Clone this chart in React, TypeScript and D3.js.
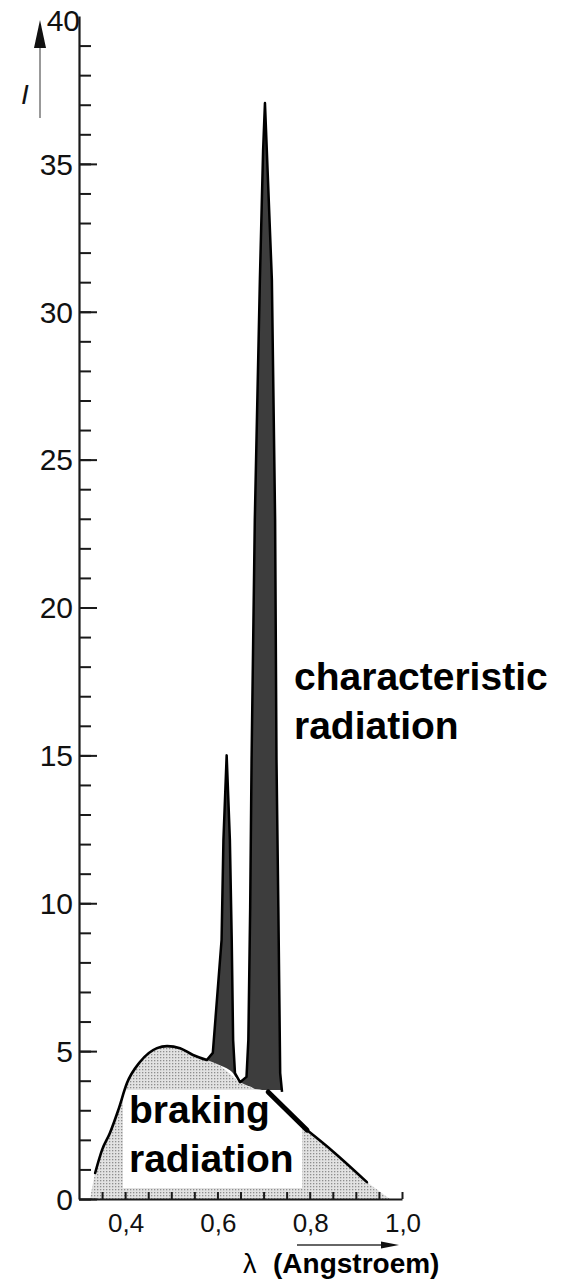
import React, { useEffect, useRef } from 'react'
import * as d3 from 'd3'

// braking radiation (continuum)
const continuumLambda = [0.324, 0.335, 0.350, 0.367, 0.385, 0.404, 0.432, 0.469, 0.491, 0.519, 0.547, 0.577, 0.606, 0.649, 0.681, 0.710, 0.794, 0.851, 0.924, 0.948, 0.974]
const continuumI = [0, 0.88, 1.66, 2.23, 3.0, 3.92, 4.63, 5.1, 5.17, 5.1, 4.87, 4.70, 4.5, 3.95, 3.72, 3.62, 2.33, 1.6, 0.57, 0.3, 0]

// characteristic lines (K-beta, K-alpha): upper outline and the continuum under it
const lineLambda = [0.577, 0.590, 0.609, 0.613, 0.620, 0.627, 0.631, 0.634, 0.638, 0.649, 0.663, 0.667, 0.671, 0.674, 0.681, 0.692, 0.699, 0.703, 0.707, 0.718, 0.725, 0.728, 0.732, 0.736, 0.740]
const lineI = [4.70, 4.94, 8.76, 12.14, 15.0, 12.14, 8.76, 5.38, 4.26, 3.95, 4.13, 5.38, 9.87, 14.85, 22.96, 31.08, 35.47, 37.06, 35.47, 31.08, 22.96, 14.85, 9.87, 4.26, 3.62]
const lineBase = [4.70, 4.62, 4.50, 4.47, 4.42, 4.35, 4.30, 4.25, 4.15, 3.95, 3.85, 3.82, 3.80, 3.78, 3.72, 3.70, 3.68, 3.67, 3.66, 3.64, 3.63, 3.62, 3.62, 3.62, 3.62]

const yMajorTicks = [0, 5, 10, 15, 20, 25, 30, 35, 40]
const xMajorTicks = [0.4, 0.6, 0.8, 1.0]
const xTickLabels = ['0,4', '0,6', '0,8', '1,0']

const W = 567
const H = 1280
const tickFont = '"Liberation Sans", Arial, sans-serif'
const labelFont = '"Liberation Sans", Arial, sans-serif'

export default function App() {
  const svgRef = useRef<SVGSVGElement>(null)

  useEffect(() => {
    if (!svgRef.current) return
    const svg = d3.select(svgRef.current)
    svg.selectAll('*').remove()

    const x = d3.scaleLinear().domain([0.3, 1.0]).range([79, 402])
    const y = d3.scaleLinear().domain([0, 40]).range([1199, 16])

    // stipple pattern for the continuum
    const defs = svg.append('defs')
    const pat = defs.append('pattern')
      .attr('id', 'stipple')
      .attr('patternUnits', 'userSpaceOnUse')
      .attr('width', 3)
      .attr('height', 3)
    pat.append('rect').attr('width', 3).attr('height', 3).attr('fill', '#e2e2e2')
    pat.append('rect').attr('x', 1).attr('y', 1).attr('width', 1.3).attr('height', 1.3).attr('fill', '#8e8e8e')

    const cont = continuumLambda.map((l, i) => ({ l, v: continuumI[i] }))
    const peaks = lineLambda.map((l, i) => ({ l, v: lineI[i], b: lineBase[i] }))

    const contArea = d3.area<{ l: number; v: number }>()
      .x(d => x(d.l))
      .y0(y(0))
      .y1(d => y(d.v))
      .curve(d3.curveMonotoneX)

    svg.append('path')
      .datum(cont)
      .attr('d', contArea)
      .attr('fill', 'url(#stipple)')

    const peakArea = d3.area<{ l: number; v: number; b: number }>()
      .x(d => x(d.l))
      .y0(d => y(d.b))
      .y1(d => y(d.v))

    svg.append('path')
      .datum(peaks)
      .attr('d', peakArea)
      .attr('fill', '#3d3d3d')

    // white box behind the lower label
    svg.append('rect')
      .attr('x', 123).attr('y', 1090).attr('width', 179).attr('height', 98)
      .attr('fill', '#fff')

    const peakLine = d3.line<{ l: number; v: number; b: number }>()
      .x(d => x(d.l))
      .y(d => y(d.v))

    svg.append('path')
      .datum(peaks)
      .attr('d', peakLine)
      .attr('fill', 'none')
      .attr('stroke', '#000')
      .attr('stroke-width', 2.5)
      .attr('stroke-linejoin', 'round')

    // continuum outline: thin before the lines, thick just after, thin tail
    const contLine = d3.line<{ l: number; v: number }>()
      .x(d => x(d.l))
      .y(d => y(d.v))
      .curve(d3.curveMonotoneX)

    const segments: [number, number, number][] = [[1, 12, 2.6], [15, 17, 5], [16, 19, 2.6]]
    segments.forEach(([a, b, w]) => {
      svg.append('path')
        .datum(cont.slice(a, b))
        .attr('d', contLine)
        .attr('fill', 'none')
        .attr('stroke', '#000')
        .attr('stroke-width', w)
        .attr('stroke-linecap', 'round')
    })

    // y axis, ticks point inwards
    const yAxisMinor = svg.append('g')
      .attr('transform', `translate(${x(0.3)},0)`)
      .call(d3.axisRight(y).tickValues(d3.range(0, 40)).tickSize(12).tickSizeOuter(0).tickFormat(() => ''))
    svg.append('g')
      .attr('transform', `translate(${x(0.3)},0)`)
      .call(d3.axisRight(y).tickValues(yMajorTicks.slice(0, -1)).tickSize(18).tickSizeOuter(0).tickFormat(() => ''))
      .select('.domain').remove()
    svg.selectAll('.tick line').attr('stroke', '#1a1a1a').attr('stroke-width', 2)
    yAxisMinor.select('.domain').attr('stroke', '#1a1a1a').attr('stroke-width', 2.2)

    svg.append('g')
      .selectAll('text')
      .data(yMajorTicks)
      .enter()
      .append('text')
      .attr('x', d => (d === 40 ? 80 : 73))
      .attr('y', d => (d === 40 ? 31 : y(d)))
      .attr('dy', d => (d === 40 ? 0 : '0.36em'))
      .attr('text-anchor', 'end')
      .style('font-family', tickFont)
      .style('font-size', '30px')
      .style('fill', '#111')
      .text(d => String(d))

    // x axis, ticks point upwards
    const xAxis = svg.append('g')
      .attr('transform', `translate(0,${y(0)})`)
      .call(d3.axisTop(x).tickValues(d3.range(7, 21).map(i => i * 0.05)).tickSize(7).tickSizeOuter(0).tickFormat(() => ''))
    xAxis.select('.domain').attr('stroke', '#1a1a1a').attr('stroke-width', 2.2)
    xAxis.selectAll('.tick line').attr('stroke', '#1a1a1a').attr('stroke-width', 2)

    svg.append('g')
      .selectAll('text')
      .data(xMajorTicks)
      .enter()
      .append('text')
      .attr('x', d => x(d) + 1)
      .attr('y', 1232)
      .attr('text-anchor', 'middle')
      .style('font-family', tickFont)
      .style('font-size', '26px')
      .style('fill', '#111')
      .text((d, i) => xTickLabels[i])

    // axis arrows
    svg.append('line')
      .attr('x1', 40).attr('x2', 40).attr('y1', 118).attr('y2', 44)
      .attr('stroke', '#777').attr('stroke-width', 1.5)
    svg.append('path')
      .attr('d', 'M40,20 L34,48 L46,48 Z')
      .attr('fill', '#111')
    svg.append('text')
      .attr('x', 25)
      .attr('y', 104)
      .attr('text-anchor', 'middle')
      .style('font-family', tickFont)
      .style('font-style', 'italic')
      .style('font-size', '28px')
      .style('fill', '#111')
      .text('I')

    svg.append('line')
      .attr('x1', 297).attr('x2', 385).attr('y1', 1245).attr('y2', 1245)
      .attr('stroke', '#333').attr('stroke-width', 1.5)
    svg.append('path')
      .attr('d', 'M399,1245 L381,1241.5 L381,1248.5 Z')
      .attr('fill', '#111')

    const xt = svg.append('text')
      .attr('x', 243)
      .attr('y', 1273)
      .style('font-family', labelFont)
      .style('font-size', '27px')
      .style('fill', '#000')
    xt.append('tspan').text('λ')
    xt.append('tspan').attr('x', 273).style('font-weight', 'bold').style('font-size', '28px').text('(Angstroem)')

    // labels
    const addLabel = (lines: string[], x0: number, y0: number) => {
      lines.forEach((t, i) => {
        svg.append('text')
          .attr('x', x0)
          .attr('y', y0 + i * 49)
          .style('font-family', labelFont)
          .style('font-weight', 'bold')
          .style('font-size', '39px')
          .style('fill', '#000')
          .text(t)
      })
    }

    addLabel(['braking', 'radiation'], 129, 1123)
    addLabel(['characteristic', 'radiation'], 294, 690)
  }, [])

  return (
    <div style={{ position: 'absolute', left: 0, top: 0 }}>
      <svg ref={svgRef} width={W} height={H} style={{ display: 'block', background: '#fff' }} />
    </div>
  )
}
